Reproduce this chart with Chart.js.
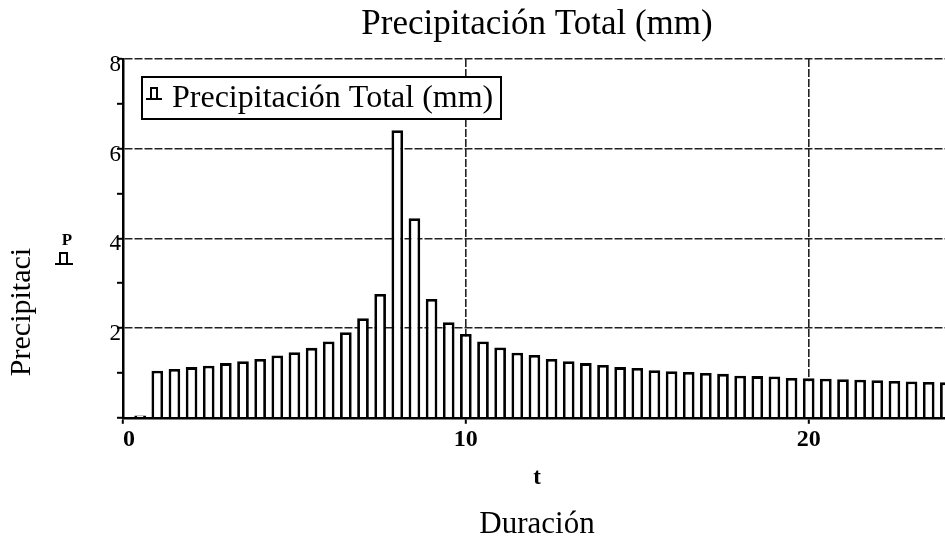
<!DOCTYPE html>
<html>
<head>
<meta charset="utf-8">
<title>Precipitación Total (mm)</title>
<script src="https://cdn.jsdelivr.net/npm/chart.js@4.4.0/dist/chart.umd.min.js"></script>
<style>
  html, body { margin: 0; padding: 0; background: #fff; overflow: hidden; }
  #wrap { position: relative; width: 960px; height: 545px; }
</style>
</head>
<body>
<div id="wrap"><canvas id="grafico" width="960" height="545"></canvas></div>
<script>
// Duración t (h) de cada intervalo del hietograma
const tiempos = [
  0.5, 1.0, 1.5, 2.0, 2.5, 3.0, 3.5, 4.0, 4.5, 5.0, 5.5, 6.0,
  6.5, 7.0, 7.5, 8.0, 8.5, 9.0, 9.5, 10.0, 10.5, 11.0, 11.5, 12.0,
  12.5, 13.0, 13.5, 14.0, 14.5, 15.0, 15.5, 16.0, 16.5, 17.0, 17.5, 18.0,
  18.5, 19.0, 19.5, 20.0, 20.5, 21.0, 21.5, 22.0, 22.5, 23.0, 23.5, 24.0
];

// Precipitación total por intervalo (mm)
const precipitacion = [
  0.05, 1.05, 1.09, 1.13, 1.16, 1.22, 1.26, 1.31, 1.39, 1.46, 1.56, 1.70,
  1.91, 2.22, 2.76, 6.41, 4.45, 2.65, 2.13, 1.87, 1.70, 1.57, 1.45, 1.40,
  1.31, 1.26, 1.22, 1.18, 1.13, 1.11, 1.06, 1.04, 1.02, 1.00, 0.98, 0.94,
  0.93, 0.92, 0.89, 0.88, 0.87, 0.86, 0.85, 0.84, 0.82, 0.81, 0.80, 0.79
];

// Marcas rotuladas de los ejes
const ticksX = [0, 10, 20];
const ticksY = [2, 4, 6, 8];

const serif = "'Liberation Serif', 'Times New Roman', serif";
const gris = '#222222';
const transparente = 'rgba(0,0,0,0)';

// Símbolo de la traza: barrita sobre una línea base
function simboloTraza(ctx, x0, x1, yBase, rx0, rx1, rTop) {
  ctx.save();
  ctx.strokeStyle = '#000';
  ctx.lineWidth = 2;
  ctx.beginPath();
  ctx.moveTo(x0, yBase);
  ctx.lineTo(x1, yBase);
  ctx.stroke();
  ctx.fillStyle = '#fff';
  ctx.fillRect(rx0, rTop, rx1 - rx0, yBase - rTop);
  ctx.strokeRect(rx0, rTop, rx1 - rx0, yBase - rTop);
  ctx.restore();
}

// Leyenda enmarcada dentro del área de trazado
const leyendaEnmarcada = {
  id: 'leyendaEnmarcada',
  afterDatasetsDraw(chart) {
    const { ctx, chartArea: a } = chart;
    const bx = a.left + 19, by = a.top + 18, bw = 359, bh = 42;
    ctx.save();
    ctx.fillStyle = '#fff';
    ctx.fillRect(bx, by, bw, bh);
    ctx.strokeStyle = '#000';
    ctx.lineWidth = 2;
    ctx.strokeRect(bx, by, bw, bh);
    simboloTraza(ctx, bx + 4, bx + 20, by + 22, bx + 9, bx + 15, by + 11);
    ctx.fillStyle = '#000';
    ctx.font = '32px ' + serif;
    ctx.textAlign = 'left';
    ctx.textBaseline = 'alphabetic';
    ctx.fillText(chart.data.datasets[0].label, bx + 30, by + 30);
    ctx.restore();
  }
};

// Rótulo del eje vertical con el nombre de la variable P
const rotuloVertical = {
  id: 'rotuloVertical',
  afterDraw(chart) {
    const { ctx, chartArea: a } = chart;
    ctx.save();
    ctx.fillStyle = '#000';
    ctx.font = '30px ' + serif;
    ctx.textAlign = 'center';
    ctx.textBaseline = 'alphabetic';
    ctx.translate(30, a.top + 253);
    ctx.rotate(-Math.PI / 2);
    ctx.fillText('Precipitaci', 0, 0);
    ctx.restore();

    ctx.save();
    ctx.fillStyle = '#000';
    ctx.font = 'bold 17px ' + serif;
    ctx.textAlign = 'center';
    ctx.textBaseline = 'alphabetic';
    ctx.fillText('P', 67, a.top + 186);
    ctx.restore();
    simboloTraza(ctx, 55, 73, a.top + 205, 60, 67, a.top + 194);
  }
};

new Chart(document.getElementById('grafico'), {
  type: 'bar',
  data: {
    datasets: [{
      label: 'Precipitación Total (mm)',
      data: tiempos.map((t, i) => ({ x: t, y: precipitacion[i] })),
      backgroundColor: '#ffffff',
      borderColor: '#000000',
      borderWidth: 2.8,
      borderSkipped: 'start',
      categoryPercentage: 1.0,
      barPercentage: 0.68
    }]
  },
  options: {
    responsive: false,
    animation: false,
    devicePixelRatio: 1,
    layout: { padding: { left: 0, right: 9, top: 0, bottom: 0 } },
    plugins: {
      legend: { display: false },
      tooltip: { enabled: false },
      title: {
        display: true,
        text: 'Precipitación Total (mm)',
        fullSize: false,
        color: '#000',
        font: { family: serif, size: 35, weight: 'normal' },
        padding: { top: 4, bottom: 13 }
      },
      subtitle: {
        display: true,
        position: 'bottom',
        text: 'Duración',
        fullSize: false,
        color: '#000',
        font: { family: serif, size: 31, weight: 'normal' },
        padding: { top: 4, bottom: 2 }
      }
    },
    scales: {
      x: {
        type: 'linear',
        min: 0,
        max: 24.15,
        offset: false,
        afterFit(s) { s.height = 84; },
        afterBuildTicks(s) {
          s.ticks = ticksX.map(v => ({ value: v })).concat([{ value: s.max }]);
        },
        ticks: {
          align: 'inner',
          padding: 2,
          autoSkip: false,
          maxRotation: 0,
          color: '#000',
          font: { family: serif, size: 24, weight: 'bold' },
          callback: v => ticksX.includes(v) ? String(v) : ''
        },
        grid: {
          offset: false,
          lineWidth: 1.6,
          color: c => (c.tick && ticksX.includes(c.tick.value) && c.tick.value > 0) ? gris : transparente,
          tickColor: c => (c.tick && ticksX.includes(c.tick.value)) ? '#000' : transparente,
          tickLength: 6,
          tickWidth: 2
        },
        border: { display: true, color: '#000', width: 2.5, dash: [8, 2] },
        title: {
          display: true,
          text: 't',
          color: '#000',
          font: { family: serif, size: 23, weight: 'bold' },
          padding: { top: 0, bottom: 10 }
        }
      },
      y: {
        min: 0,
        max: 8,
        afterFit(s) { s.width = 123; },
        ticks: {
          stepSize: 1,
          padding: -4,
          labelOffset: 6,
          color: '#000',
          font: { family: serif, size: 23 },
          callback: v => ticksY.includes(v) ? String(v) : ''
        },
        grid: {
          lineWidth: 1.6,
          color: c => (c.tick && ticksY.includes(c.tick.value)) ? gris : transparente,
          tickColor: '#000',
          tickLength: 6,
          tickWidth: 2
        },
        border: { display: true, color: '#000', width: 2.5, dash: [8, 2] }
      }
    }
  },
  plugins: [leyendaEnmarcada, rotuloVertical]
});
</script>
</body>
</html>
